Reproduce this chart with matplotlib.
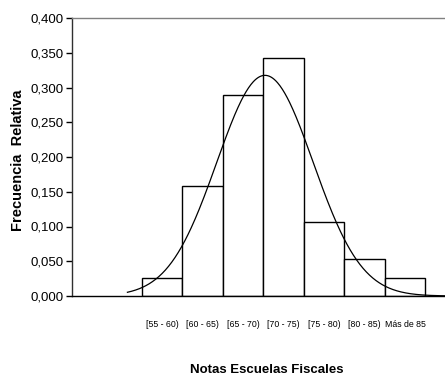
import numpy as np
import matplotlib
matplotlib.use("Agg")
import matplotlib.pyplot as plt
from matplotlib import font_manager

categories = ["[55 - 60)", "[60 - 65)", "[65 - 70)", "[70 - 75)", "[75 - 80)", "[80 - 85)", "Más de 85"]
bin_left = [55, 60, 65, 70, 75, 80, 85]
rel_freq = [0.026, 0.158, 0.289, 0.342, 0.106, 0.053, 0.026]
# fitted normal curve parameters
curve_mean = 70.2
curve_std = 5.95
curve_peak = 0.3175
curve_range = (53.2, 93.0)
yticks = [0.0, 0.05, 0.10, 0.15, 0.20, 0.25, 0.30, 0.35, 0.40]

names = {f.name for f in font_manager.fontManager.ttflist}
fam = "Liberation Sans Narrow" if "Liberation Sans Narrow" in names else "Liberation Sans"
plt.rcParams['font.family'] = [fam, 'DejaVu Sans']

fig = plt.figure(figsize=(4.45, 3.79), dpi=100)
ax = fig.add_axes([72/445, 83/379, 373/445, 278/379])

width = 5
ax.bar(bin_left, rel_freq, width=width, align='edge', facecolor='white',
       edgecolor='black', linewidth=1.0, zorder=2)

xs = np.linspace(curve_range[0], curve_range[1], 400)
ys = curve_peak * np.exp(-0.5 * ((xs - curve_mean) / curve_std) ** 2)
ax.plot(xs, ys, color='black', linewidth=0.9, zorder=3)

ax.set_xlim(46.35, 92.45)
ax.set_ylim(0, 0.4)
ax.set_yticks(yticks)
ax.set_yticklabels([f"{v:.3f}".replace('.', ',') for v in yticks], fontsize=9.5)
ax.tick_params(axis='y', direction='out', length=4, width=1, pad=2)

ax.set_xticks([b + width / 2 for b in bin_left])
ax.set_xticklabels(categories, fontsize=6.3)
ax.tick_params(axis='x', length=0, pad=17)

ax.spines['right'].set_visible(False)
ax.spines['top'].set_color('#808080')
ax.spines['left'].set_color('#303030')
ax.spines['bottom'].set_color('black')
for s in ax.spines.values():
    s.set_linewidth(1.0)

fig.text(18/445, 1 - 160/379, "Frecuencia  Relativa", fontsize=10.5, fontweight='bold',
         rotation=90, ha='center', va='center')
fig.text(267/445, 1 - 370/379, "Notas Escuelas Fiscales", fontsize=9.5, fontweight='bold',
         ha='center', va='center')

fig.savefig("out.png", dpi=100)
